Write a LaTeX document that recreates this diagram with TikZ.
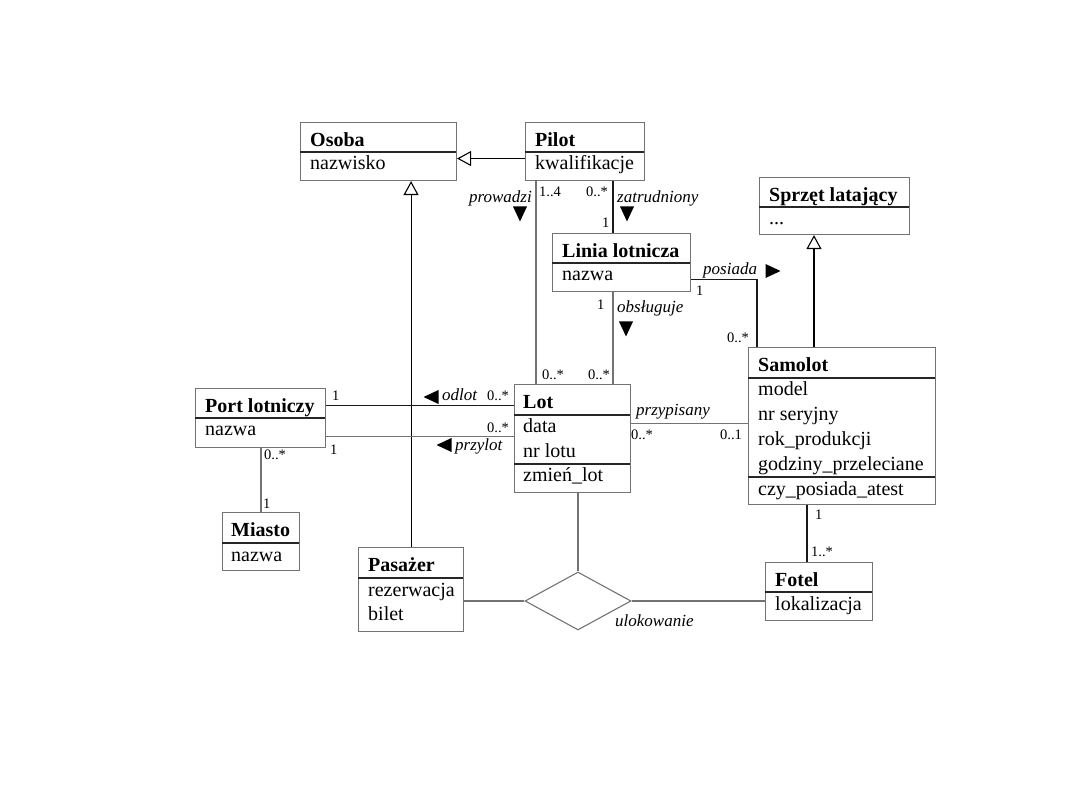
\documentclass[tikz,border=0pt]{standalone}
\usepackage{fontspec}
\setmainfont{Liberation Serif}
\usetikzlibrary{arrows.meta,shapes.geometric}
\begin{document}
\begin{tikzpicture}[x=1pt,y=-1pt,
  box/.style={draw=black!55, line width=1.1pt, anchor=north west, inner sep=0pt, rectangle},
  sep/.style={black!85, line width=1.1pt},
  ttl/.style={anchor=base west, inner sep=0pt, font=\fontsize{20}{24}\selectfont\bfseries},
  attr/.style={anchor=base west, inner sep=0pt, font=\fontsize{20}{24}\selectfont},
  mult/.style={anchor=base west, inner sep=0pt, font=\fontsize{14.5}{16}\selectfont},
  role/.style={anchor=base west, inner sep=0pt, font=\fontsize{17}{19}\selectfont\itshape},
  assoc/.style={black!55, line width=1.1pt},
  assocd/.style={black!90, line width=1.1pt},
  gen/.style={black, line width=1.1pt, -{Triangle[open, length=14pt, width=15pt]}},
  dtri/.pic={\fill (-7,-7.5) -- (7,-7.5) -- (0,7.5) -- cycle;}
]
\useasboundingbox (0,0) rectangle (1080,810);

% boxes
\node[box, minimum width=156pt, minimum height=58pt] (osoba) at (300,122) {};
\node[box, minimum width=119pt, minimum height=58pt] (pilot) at (525,122) {};
\node[box, minimum width=150pt, minimum height=57pt] (sprzet) at (759,177) {};
\node[box, minimum width=138pt, minimum height=58pt] (linia) at (552,233) {};
\node[box, minimum width=130pt, minimum height=59pt] (port) at (195,388) {};
\node[box, minimum width=116pt, minimum height=108pt] (lot) at (514,384) {};
\node[box, minimum width=187pt, minimum height=157pt] (samolot) at (748,347) {};
\node[box, minimum width=77pt, minimum height=58pt] (miasto) at (222,512) {};
\node[box, minimum width=105pt, minimum height=84pt] (pasazer) at (358,547) {};
\node[box, minimum width=107pt, minimum height=58pt] (fotel) at (765,562) {};
\node[draw=black!55, line width=1.1pt, diamond, minimum width=106pt, minimum height=58pt, inner sep=0pt] (dia) at (578,601) {};

% separators
\draw[sep] (300,152) -- (456,152);
\draw[sep] (525,152) -- (644,152);
\draw[sep] (759,207) -- (909,207);
\draw[sep] (552,263) -- (690,263);
\draw[sep] (195,418) -- (325,418);
\draw[sep] (514,415) -- (630,415);
\draw[sep] (514,464) -- (630,464);
\draw[sep] (748,378) -- (935,378);
\draw[sep] (748,477) -- (935,477);
\draw[sep] (222,543) -- (299,543);
\draw[sep] (358,578) -- (463,578);
\draw[sep] (765,592) -- (872,592);

% texts in boxes
\node[ttl] (t1) at (310,146.5) {Osoba};
\node[attr] (a1) at (310,170) {nazwisko};
\node[ttl] (t2) at (535,146.5) {Pilot};
\node[attr] (a2) at (535,170) {kwalifikacje};
\node[ttl] (t3) at (769,201.5) {Sprzęt latający};
\node[attr] (a3) at (769,225) {...};
\node[ttl] (t4) at (562,257.5) {Linia lotnicza};
\node[attr] (a4) at (562,281) {nazwa};
\node[ttl] (t5) at (205,412.5) {Port lotniczy};
\node[attr] (a5) at (205,436) {nazwa};
\node[ttl] (t6) at (523,408.5) {Lot};
\node[attr] (a6a) at (523,433) {data};
\node[attr] (a6b) at (523,457.7) {nr lotu};
\node[attr] (a6c) at (523,482) {zmień\_lot};
\node[ttl] (t7) at (758,371.5) {Samolot};
\node[attr] (a7a) at (758,396) {model};
\node[attr] (a7b) at (758,420.7) {nr seryjny};
\node[attr] (a7c) at (758,445.4) {rok\_produkcji};
\node[attr] (a7d) at (758,470.1) {godziny\_przeleciane};
\node[attr] (a7e) at (758,495) {czy\_posiada\_atest};
\node[ttl] (t8) at (231,536.5) {Miasto};
\node[attr] (a8) at (231,561) {nazwa};
\node[ttl] (t9) at (368,571.5) {Pasażer};
\node[attr] (a9a) at (368,596) {rezerwacja};
\node[attr] (a9b) at (368,620.7) {bilet};
\node[ttl] (t10) at (775,586.5) {Fotel};
\node[attr] (a10) at (775,610) {lokalizacja};

% generalizations
\draw[gen] ([yshift=-7pt]pilot.west) -- ([yshift=-7pt]osoba.east);
\draw[gen] (pasazer.north) -- (pasazer.north |- osoba.south);
\draw[gen] ([xshift=66pt]samolot.north west) -- ([xshift=66pt]samolot.north west |- sprzet.south);

% associations
\draw[assoc] ([xshift=11pt]pilot.south west) -- ([xshift=11pt]pilot.south west |- lot.north);
\draw[assocd] ([xshift=88pt]pilot.south west) -- ([xshift=88pt]pilot.south west |- linia.north);
\draw[assoc] ([xshift=61pt]linia.south west) -- ([xshift=61pt]linia.south west |- lot.north);
\draw[assocd] ([yshift=-17pt]linia.east) -| ([xshift=9pt]samolot.north west);
\draw[assocd] ([yshift=12.5pt]port.east) -- ([yshift=12.5pt]port.east -| lot.west);
\draw[assoc] ([yshift=-18.5pt]port.east) -- ([yshift=-18.5pt]port.east -| lot.west);
\draw[assoc] ([xshift=66pt]port.south west) -- ([xshift=66pt]port.south west |- miasto.north);
\draw[assoc] ([yshift=15pt]lot.east) -- ([yshift=15pt]lot.east -| samolot.west);
\draw[assoc] (dia.north |- lot.south) -- (dia.north);
\draw[assoc] (pasazer.east |- dia.west) -- (dia.west);
\draw[assoc] (dia.east) -- (dia.east -| fotel.west);
\draw[assocd] ([xshift=59pt]samolot.south west) -- ([xshift=59pt]samolot.south west |- fotel.north);

% direction triangles
\pic at (520,214) {dtri};
\pic at (627,214) {dtri};
\pic at (626,329) {dtri};
\pic[rotate=90] at (773,271) {dtri};
\pic[rotate=-90] at (431,397) {dtri};
\pic[rotate=-90] at (444,445) {dtri};

% role names
\node[role, anchor=base east] (r1) at (532,203) {prowadzi};
\node[role] (r2) at (617,203) {zatrudniony};
\node[role] (r3) at (617,313) {obsługuje};
\node[role] (r4) at (703,275) {posiada};
\node[role] (r5) at (442,401) {odlot};
\node[role] (r6) at (455,451) {przylot};
\node[role] (r7) at (636,416) {przypisany};
\node[role] (r8) at (615,626) {ulokowanie};

% multiplicities
\node[mult] (m1) at (539,197) {1..4};
\node[mult] (m2) at (586,197) {0..*};
\node[mult] (m3) at (602,228) {1};
\node[mult] (m4) at (597,310) {1};
\node[mult] (m5) at (542,380) {0..*};
\node[mult] (m6) at (588,380) {0..*};
\node[mult] (m7) at (696,296) {1};
\node[mult] (m8) at (727,343) {0..*};
\node[mult] (m9) at (332,401) {1};
\node[mult] (m10) at (487,401) {0..*};
\node[mult] (m11) at (487,433) {0..*};
\node[mult] (m12) at (330,455) {1};
\node[mult] (m13) at (264,460) {0..*};
\node[mult] (m14) at (263,508) {1};
\node[mult] (m15) at (631,440) {0..*};
\node[mult] (m16) at (720,440) {0..1};
\node[mult] (m17) at (815,519) {1};
\node[mult] (m18) at (811,556) {1..*};
\end{tikzpicture}
\end{document}
